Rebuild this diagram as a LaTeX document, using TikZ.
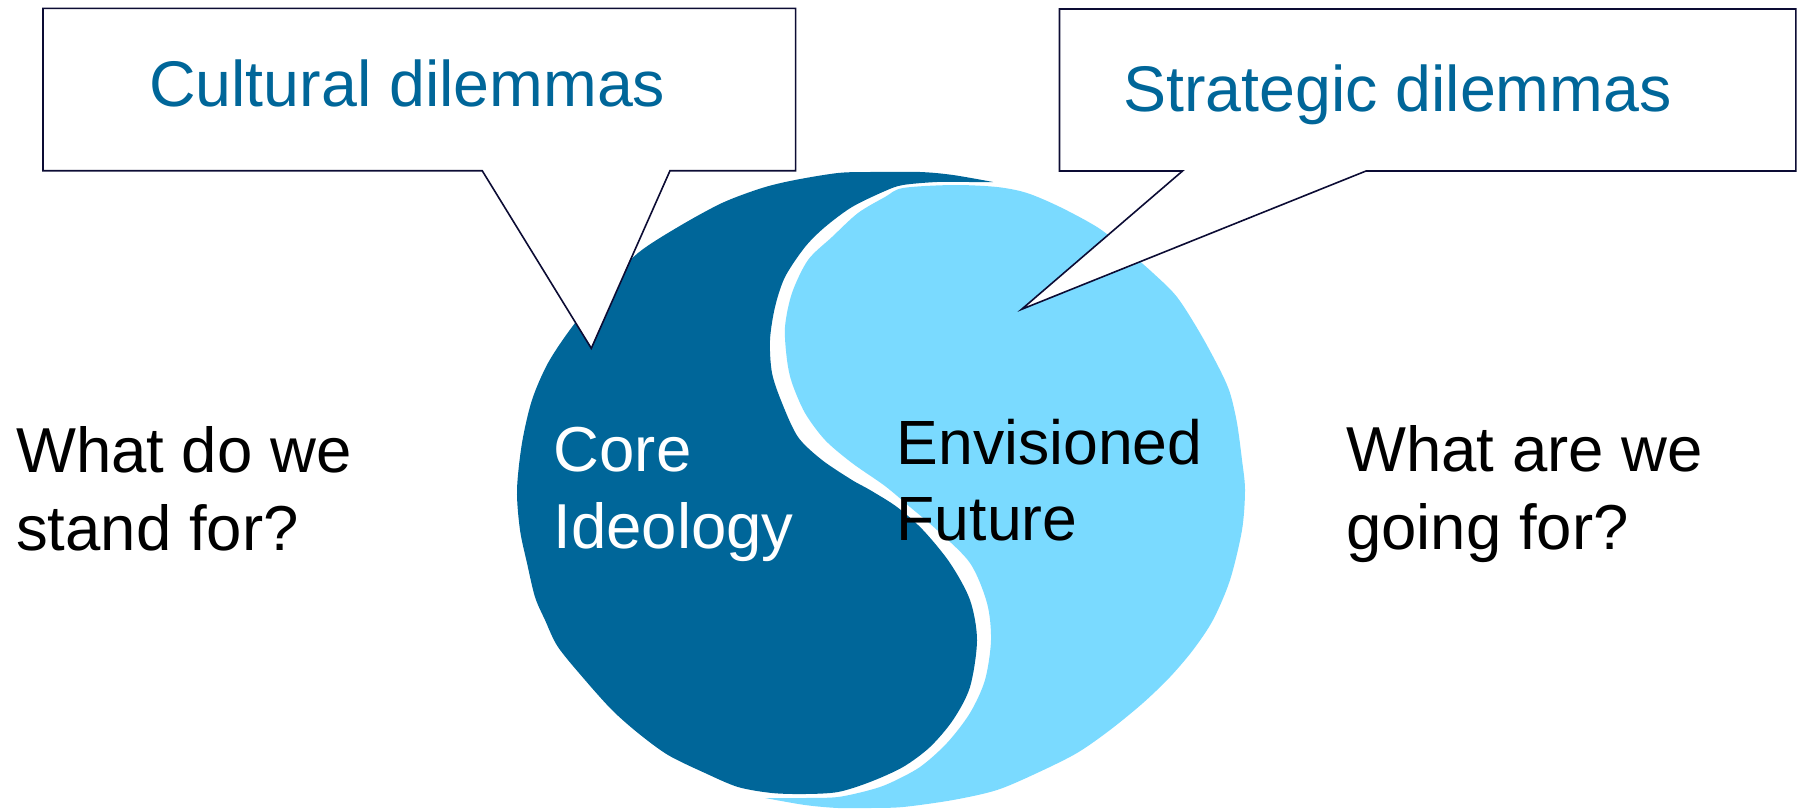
\documentclass[tikz,border=0pt]{standalone}
\usepackage{fontspec}
\setmainfont{Liberation Sans}
\definecolor{darkb}{RGB}{0,102,153}
\definecolor{lightb}{RGB}{122,218,255}
\definecolor{navy}{RGB}{12,12,52}
\begin{document}
\begin{tikzpicture}[x=1pt,y=-1pt,
  callout/.style={fill=white,draw=navy,line width=1.6pt,line join=miter},
  bigtext/.style={font=\fontsize{63.5}{77.5}\selectfont,inner sep=0pt,anchor=base west,align=left},
  calltext/.style={font=\fontsize{64.5}{77}\selectfont,inner sep=0pt,anchor=base west,text=darkb}]
\useasboundingbox (0,0) rectangle (1806,809);
% dark half
\fill[darkb] (993,182) -- plot[smooth,tension=0.5] coordinates {(993,182) (953,175) (920,172) (870,172) (838,173) (795,180) (762,188) (722,203) (678,227) (638,253) (605,287) (572,327) (548,363) (532,400) (522,443) (517,490) (520,530) (527,563) (535,597) (545,620) (558,647) (585,680) (612,710) (638,733) (668,755) (705,773) (738,787) (772,793) (805,794) (838,792) (870,782) (903,767) (930,747) (953,720) (970,687) (977,640) (970,600) (950,563) (923,530) (897,507) (870,490) (852,480) (822,460) (798,437) (782,403) (772,373) (770,340) (775,307) (785,277) (805,247) (825,227) (852,207) (885,191) (903,185) (937,182) (970,182) (993,182)} -- cycle;
% light half
\fill[lightb] (765,798) -- plot[smooth,tension=0.5] coordinates {(765,798) (805,805) (838,808) (870,808) (903,807) (953,800) (997,790) (1037,773) (1077,753) (1110,730) (1143,703) (1170,677) (1193,650) (1213,620) (1230,580) (1242,530) (1245,490) (1242,460) (1237,423) (1230,393) (1220,370) (1200,333) (1177,297) (1153,273) (1123,247) (1097,227) (1060,207) (1027,193) (997,187) (953,185) (903,188) (885,197) (858,213) (832,237) (808,260) (792,293) (785,327) (787,360) (792,383) (805,413) (825,440) (852,463) (885,486) (910,507) (937,530) (970,563) (987,603) (991,640) (985,680) (970,713) (947,743) (920,767) (890,783) (870,790) (838,797) (805,798) (765,798)} -- cycle;
% callouts
\draw[callout] (43,8.3) -- (795.6,8.3) -- (795.6,170.7) -- (670,170.7) -- (591.3,348.3) -- (482.2,170.7) -- (43,170.7) -- cycle;
\draw[callout] (1059.5,9) -- (1795.9,9) -- (1795.9,171) -- (1366,171) -- (1021.6,309.3) -- (1182.5,171) -- (1059.5,171) -- cycle;
% texts
\node[calltext] (cult) at (149,106) {Cultural dilemmas};
\node[calltext] (strat) at (1123,111.7) {Strategic dilemmas};
\node[bigtext] (stand) at (16,550) {What do we\\stand for?};
\node[bigtext] (going) at (1346,549) {What are we\\going for?};
\node[bigtext,text=white] (core) at (553.5,548.5) {Core\\Ideology};
\node[bigtext,font=\fontsize{62.5}{76}\selectfont] (env) at (896.5,540) {Envisioned\\Future};
\end{tikzpicture}
\end{document}
